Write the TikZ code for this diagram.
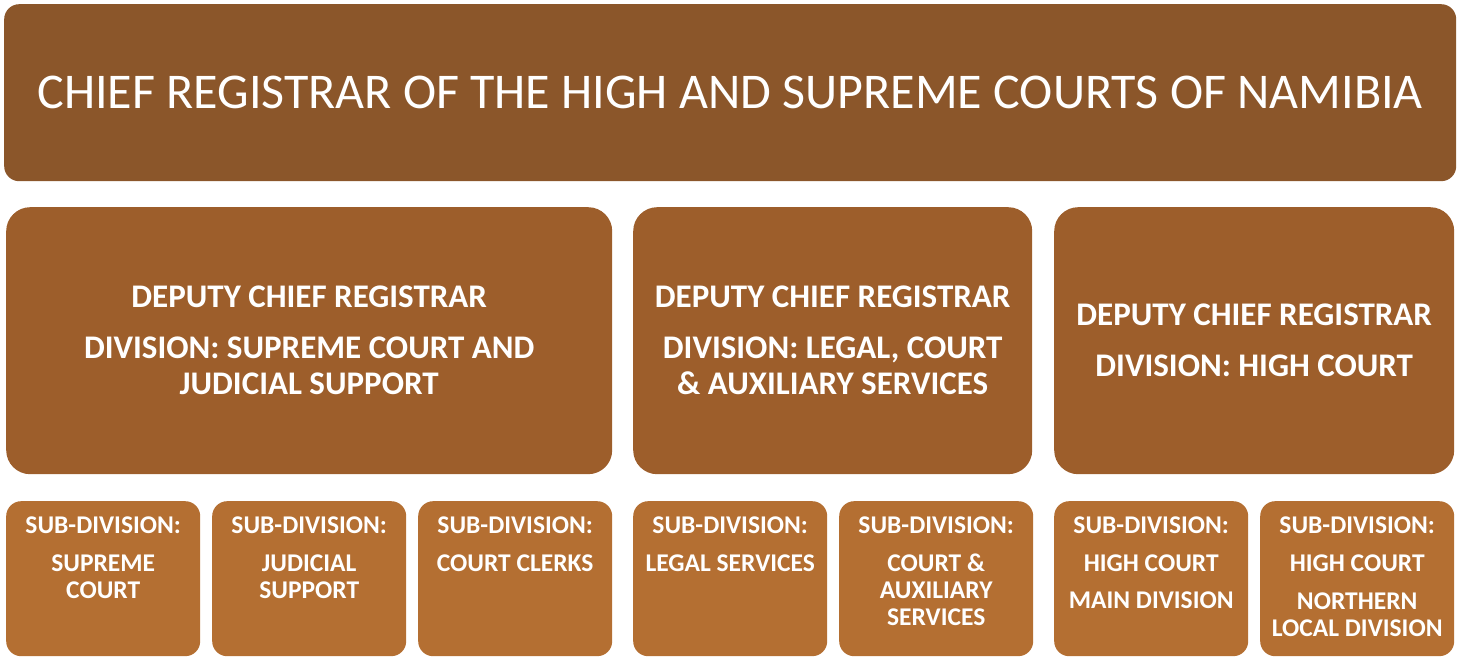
\documentclass[tikz,border=0pt]{standalone}
\usepackage{fontspec}
\setmainfont{Carlito}
\definecolor{topc}{RGB}{139,86,42}
\definecolor{midc}{RGB}{157,94,43}
\definecolor{lowc}{RGB}{180,111,50}
\newcommand{\firstline}{\rule[0pt]{0pt}{20pt}}
\begin{document}
\begin{tikzpicture}[x=1pt,y=-1pt,
  topbox/.style={draw=none,fill=topc,rounded corners=15pt,minimum width=1452pt,minimum height=177pt,anchor=north west,inner sep=0pt,text=white,font=\fontsize{50}{60}\selectfont},
  midbox/.style={draw=none,fill=midc,rounded corners=24pt,minimum height=267pt,anchor=north west,inner sep=0pt,text=white,align=center,font=\bfseries\fontsize{33}{36}\selectfont},
  lowbox/.style={draw=none,fill=lowc,rounded corners=15pt,minimum width=194pt,minimum height=155pt,anchor=north west,inner sep=0pt},
  lowtext/.style={anchor=north,text=white,align=center,inner sep=0pt,font=\bfseries\fontsize{25.5}{27}\selectfont}
]
\useasboundingbox (0,0) rectangle (1460,660);
\node[topbox] (chief) at (4,4) {CHIEF REGISTRAR OF THE HIGH AND SUPREME COURTS OF NAMIBIA};

\node[midbox,minimum width=606pt] (dA) at (6,207) {DEPUTY CHIEF REGISTRAR\\[15pt]DIVISION: SUPREME COURT AND\\JUDICIAL SUPPORT};
\node[midbox,minimum width=399pt] (dB) at (633,207) {DEPUTY CHIEF REGISTRAR\\[15pt]DIVISION: LEGAL, COURT\\\& AUXILIARY SERVICES};
\node[midbox,minimum width=400pt] (dC) at (1054,207) {DEPUTY CHIEF REGISTRAR\\[15pt]DIVISION: HIGH COURT};

\node[lowbox] (s1) at (6,501) {};
\node[lowbox] (s2) at (212,501) {};
\node[lowbox] (s3) at (418,501) {};
\node[lowbox] (s4) at (633,501) {};
\node[lowbox] (s5) at (839,501) {};
\node[lowbox] (s6) at (1054,501) {};
\node[lowbox] (s7) at (1260,501) {};

\node[lowtext] (t1) at ([yshift=-12pt]s1.north) {\firstline SUB-DIVISION:\\[11pt]SUPREME\\COURT};
\node[lowtext] (t2) at ([yshift=-12pt]s2.north) {\firstline SUB-DIVISION:\\[11pt]JUDICIAL\\SUPPORT};
\node[lowtext] (t3) at ([yshift=-12pt]s3.north) {\firstline SUB-DIVISION:\\[11pt]COURT CLERKS};
\node[lowtext] (t4) at ([yshift=-12pt]s4.north) {\firstline SUB-DIVISION:\\[11pt]LEGAL SERVICES};
\node[lowtext] (t5) at ([yshift=-12pt]s5.north) {\firstline SUB-DIVISION:\\[11pt]COURT \&\\AUXILIARY\\SERVICES};
\node[lowtext] (t6) at ([yshift=-12pt]s6.north) {\firstline SUB-DIVISION:\\[11pt]HIGH COURT\\[10pt]MAIN DIVISION};
\node[lowtext] (t7) at ([yshift=-12pt]s7.north) {\firstline SUB-DIVISION:\\[11pt]HIGH COURT\\[11pt]NORTHERN\\LOCAL DIVISION};
\end{tikzpicture}
\end{document}
